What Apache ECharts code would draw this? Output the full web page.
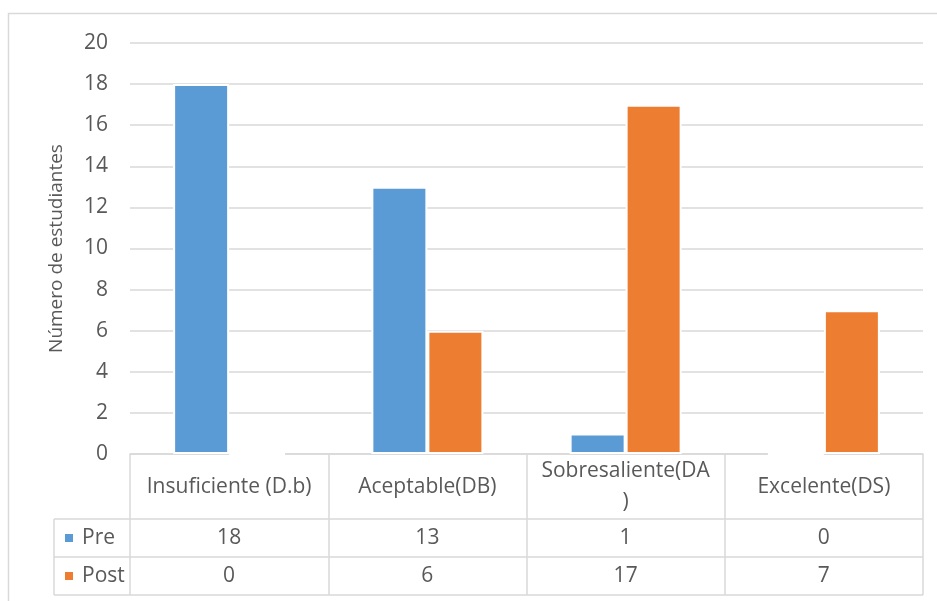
<!DOCTYPE html>
<html><head><meta charset="utf-8">
<script src="https://cdn.jsdelivr.net/npm/echarts@6/dist/echarts.min.js"></script>
<style>html,body{margin:0;padding:0;background:#fff}#c{width:937px;height:601px}</style>
</head><body><div id="c"></div>
<script>
const categories = ['Insuficiente (D.b)', 'Aceptable(DB)', 'Sobresaliente(DA\n)', 'Excelente(DS)'];
const seriesNames = ['Pre', 'Post'];
const preValues = [18, 13, 1, 0];
const postValues = [0, 6, 17, 7];
const yTicks = {min: 0, max: 20, interval: 2};
const yTitle = 'Número de estudiantes';

const FONT = '"Open Sans", Lato, sans-serif';
const FS = 21;
const FS_TITLE = 19;
const TXT = '#595959';
const LINE = '#d9d9d9';
const colors = ['#5b9bd5', '#ed7d31'];

const chart = echarts.init(document.getElementById('c'), null, {renderer: 'canvas'});
const gridTop = 43, gridBottom = 147, gridLeft = 130, gridRight = 14;
const axisY = 601 - gridBottom; // 454
const row1 = 519, row2 = 557, row3 = 595;

function valueAxis(vals, offset) {
  return {
    type: 'category', data: categories, position: 'bottom', offset: offset, gridIndex: 0,
    axisLine: {show: false}, axisTick: {show: false},
    axisLabel: {formatter: (v, i) => String(vals[i]), color: TXT, fontFamily: FONT, fontSize: FS,
      margin: 0, verticalAlign: 'middle', interval: 0}
  };
}

chart.setOption({
  animation: false,
  textStyle: {fontFamily: FONT},
  grid: {left: gridLeft, right: gridRight, top: gridTop, bottom: gridBottom},
  xAxis: [
    {
      type: 'category', data: categories,
      axisLine: {show: true, lineStyle: {color: LINE, width: 1.5}},
      axisTick: {show: true, length: row3 - axisY, lineStyle: {color: LINE, width: 1.5}, interval: 0},
      axisLabel: {color: TXT, fontFamily: FONT, fontSize: FS, margin: 33, verticalAlign: 'middle',
        lineHeight: 31, interval: 0}
    },
    valueAxis(preValues, (row1 + row2) / 2 - axisY),
    valueAxis(postValues, (row2 + row3) / 2 - axisY)
  ],
  yAxis: {
    type: 'value', min: yTicks.min, max: yTicks.max, interval: yTicks.interval,
    name: yTitle, nameLocation: 'middle', nameRotate: 90, nameGap: 64,
    nameTextStyle: {color: TXT, fontFamily: FONT, fontSize: FS_TITLE},
    axisLine: {show: false}, axisTick: {show: false},
    axisLabel: {color: TXT, fontFamily: FONT, fontSize: FS, margin: 22},
    splitLine: {lineStyle: {color: LINE, width: 1.5}}
  },
  series: [
    {name: seriesNames[0], type: 'bar', data: preValues, barWidth: 56, barGap: '0%',
      itemStyle: {color: colors[0], borderColor: '#fff', borderWidth: 2}},
    {name: seriesNames[1], type: 'bar', data: postValues, barWidth: 56, barGap: '0%',
      itemStyle: {color: colors[1], borderColor: '#fff', borderWidth: 2}}
  ],
  graphic: [
    {type: 'rect', shape: {x: 8.5, y: 13.5, width: 1000, height: 700}, style: {fill: 'none', stroke: LINE, lineWidth: 1.5}, silent: true, z: -1},
    {type: 'line', shape: {x1: 54, y1: row1, x2: 923, y2: row1}, style: {stroke: LINE, lineWidth: 1.5}},
    {type: 'line', shape: {x1: 54, y1: row2, x2: 923, y2: row2}, style: {stroke: LINE, lineWidth: 1.5}},
    {type: 'line', shape: {x1: 54, y1: row3, x2: 923, y2: row3}, style: {stroke: LINE, lineWidth: 1.5}},
    {type: 'line', shape: {x1: 54, y1: row1, x2: 54, y2: row3}, style: {stroke: LINE, lineWidth: 1.5}},
    {type: 'rect', shape: {x: 65, y: 534, width: 8, height: 8}, style: {fill: colors[0]}},
    {type: 'rect', shape: {x: 65, y: 572, width: 8, height: 8}, style: {fill: colors[1]}},
    {type: 'text', x: 82, y: (row1 + row2) / 2, style: {text: seriesNames[0], fill: TXT, font: FS + 'px ' + FONT, verticalAlign: 'middle'}},
    {type: 'text', x: 82, y: (row2 + row3) / 2, style: {text: seriesNames[1], fill: TXT, font: FS + 'px ' + FONT, verticalAlign: 'middle'}}
  ]
});
</script></body></html>
